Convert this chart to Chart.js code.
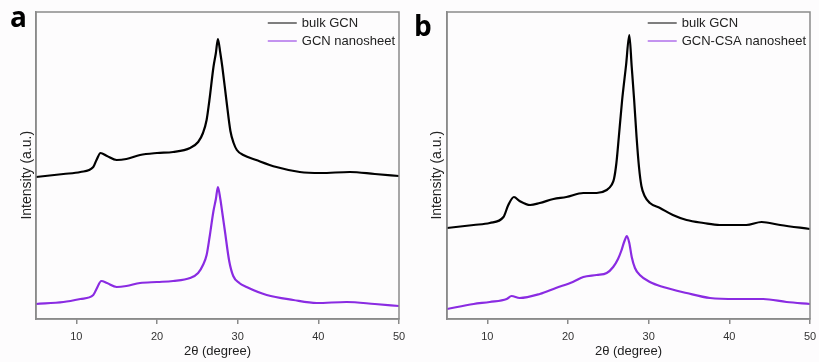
<!DOCTYPE html>
<html>
<head>
<meta charset="utf-8">
<script src="https://cdn.jsdelivr.net/npm/chart.js@4"></script>
<style>
  html, body { margin: 0; padding: 0; background: #fdfcfd; }
  #wrap { position: relative; width: 819px; height: 362px; }
  canvas { position: absolute; top: 0; }
  #panelA { left: 0; }
  #panelB { left: 410px; }
</style>
</head>
<body>
<div id="wrap">
  <canvas id="panelA" width="410" height="362"></canvas>
  <canvas id="panelB" width="409" height="362"></canvas>
</div>
<script>
// x axis tick labels (2θ, degree)
const xTicks = [10, 20, 30, 40, 50];

// panel a: bulk GCN
const aBulkX = [5, 8.4, 10.5, 12.1, 12.5, 13.0, 13.8, 15.0, 16.2, 17.9, 20.0, 22.0, 24.1, 25.1, 25.7, 26.15, 26.5, 27.0, 27.3, 27.55, 27.85, 28.1, 28.6, 29.1, 29.5, 29.9, 30.7, 32.3, 34.8, 37.7, 40.3, 43.9, 47.0, 50];
const aBulkY = [142, 145, 147, 152, 159, 166, 163, 159, 160, 164, 166, 167, 171, 177, 186, 199, 219, 252, 266, 280, 266, 252, 219, 188, 176, 169, 164, 159, 152, 147, 146, 147, 145, 143];

// panel a: GCN nanosheet
const aNanoX = [5, 8.4, 10.5, 12.1, 12.5, 13.1, 13.8, 15.0, 16.2, 17.9, 20.0, 22.0, 24.1, 25.1, 25.7, 26.15, 26.5, 27.0, 27.3, 27.55, 27.85, 28.1, 28.4, 28.95, 29.45, 30.2, 31.1, 33.6, 36.9, 39.8, 43.5, 47.0, 50];
const aNanoY = [15, 17, 20, 24, 30, 38, 36, 32, 33, 36, 37, 38, 41, 46, 54, 64, 81, 108, 120, 132, 120, 106, 89, 58, 43, 36, 32, 24, 19, 16, 17, 15, 13];

// panel b: bulk GCN
const bBulkX = [5, 8.3, 10.3, 12.0, 12.6, 13.3, 14.0, 15.3, 16.5, 18.2, 19.8, 21.9, 23.55, 24.8, 25.4, 25.7, 26.0, 26.3, 26.7, 27.2, 27.6, 27.9, 28.2, 28.5, 28.8, 29.1, 29.5, 30.15, 31.4, 33.0, 34.7, 36.8, 38.8, 42.1, 44.0, 46.3, 50];
const bBulkY = [91, 94, 96, 102, 114, 122, 118, 114, 116, 120, 122, 126, 126, 129, 134, 140, 156, 182, 218, 254, 284, 252, 219, 182, 152, 133, 123, 116, 111, 104, 99, 96, 94, 94, 97, 94, 90];

// panel b: GCN-CSA nanosheet
const bNanoX = [5, 8.3, 10.3, 12.4, 13.0, 14.0, 16.5, 18.5, 20.6, 21.9, 23.55, 24.8, 25.6, 26.2, 26.6, 27.0, 27.3, 27.6, 27.9, 28.3, 28.9, 30.15, 31.8, 34.7, 37.6, 40.9, 44.2, 47.1, 50];
const bNanoY = [10, 15, 17, 20, 23, 21, 25, 31, 37, 42, 44, 46, 52, 60, 68, 78, 83, 76, 62, 51, 44, 37, 32, 26, 21, 20, 20, 17, 15];

const BLACK = '#000000';
const PURPLE = '#8a2be2';
const FRAME = '#8a8a8a';
const FONT = '"Liberation Sans", Arial, sans-serif';
// trailing no-break spaces push the rotated y title a little below centre, as in the source figure
const Y_TITLE = 'Intensity (a.u.)' + '\u00a0'.repeat(5);

Chart.defaults.font.family = FONT;
Chart.defaults.color = '#222';

const toPoints = (xs, ys) => xs.map((x, i) => ({ x: x, y: ys[i] }));

// frame box, legend in the top right corner, panel letter
const decor = {
    id: 'decor',
    afterDraw(chart, args, opts) {
        const ctx = chart.ctx;
        const ca = chart.chartArea;
        ctx.save();
        ctx.strokeStyle = FRAME;
        ctx.lineWidth = 1.5;
        ctx.strokeRect(ca.left, ca.top, ca.right - ca.left, ca.bottom - ca.top);

        ctx.font = '13px ' + FONT;
        const sets = chart.data.datasets;
        const maxW = Math.max(...sets.map(d => ctx.measureText(d.label).width));
        const tx = ca.right - 4 - maxW;
        sets.forEach((d, i) => {
            const y = ca.top + 11 + i * 18;
            ctx.strokeStyle = d.borderColor;
            ctx.lineWidth = 1;
            ctx.beginPath();
            ctx.moveTo(tx - 34, y);
            ctx.lineTo(tx - 5, y);
            ctx.stroke();
            ctx.fillStyle = '#222';
            ctx.textBaseline = 'middle';
            ctx.fillText(d.label, tx, y);
        });

        ctx.font = 'bold 28px "Open Sans", sans-serif';
        ctx.fillStyle = '#000';
        ctx.textBaseline = 'alphabetic';
        ctx.fillText(opts.letter, opts.lx, opts.ly);
        ctx.restore();
    }
};

function makePanel(id, letter, lx, ly, rightPad, yWidth, sets) {
    new Chart(document.getElementById(id), {
        type: 'line',
        data: {
            datasets: sets.map(s => ({
                label: s.label,
                data: toPoints(s.x, s.y),
                borderColor: s.color,
                backgroundColor: s.color,
                borderWidth: 2.2,
                pointRadius: 0,
                fill: false,
                cubicInterpolationMode: 'monotone'
            }))
        },
        options: {
            responsive: false,
            animation: false,
            devicePixelRatio: 1,
            layout: { padding: { top: 12, right: rightPad, left: 0, bottom: 0 } },
            plugins: {
                legend: { display: false },
                tooltip: { enabled: false },
                decor: { letter: letter, lx: lx, ly: ly }
            },
            scales: {
                x: {
                    type: 'linear',
                    min: 5,
                    max: 50,
                    afterBuildTicks: s => { s.ticks = xTicks.map(v => ({ value: v })); },
                    afterFit: s => {
                        s.height = 43;
                        // let the layout padding alone decide the plot edges
                        s.paddingLeft = 0;
                        s.paddingRight = 0;
                    },
                    grid: { drawOnChartArea: false, tickLength: 5, color: FRAME, lineWidth: 1.5 },
                    border: { color: FRAME, width: 1.5 },
                    ticks: { color: '#333', font: { size: 11 }, padding: 6, maxRotation: 0 },
                    title: { display: true, text: '2θ (degree)', color: '#222', font: { size: 13 }, padding: { top: 0, bottom: 3 } }
                },
                y: {
                    min: 0,
                    max: 307,
                    afterFit: s => { s.width = yWidth; },
                    grid: { display: false },
                    border: { color: FRAME, width: 1.5 },
                    ticks: { display: false },
                    title: { display: true, text: Y_TITLE, color: '#222', font: { size: 14 }, padding: { top: 19, bottom: 0 } }
                }
            }
        },
        plugins: [decor]
    });
}

makePanel('panelA', 'a', 10, 27, 11, 36, [
    { label: 'bulk GCN', x: aBulkX, y: aBulkY, color: BLACK },
    { label: 'GCN nanosheet', x: aNanoX, y: aNanoY, color: PURPLE }
]);

makePanel('panelB', 'b', 4, 36, 9, 37, [
    { label: 'bulk GCN', x: bBulkX, y: bBulkY, color: BLACK },
    { label: 'GCN-CSA nanosheet', x: bNanoX, y: bNanoY, color: PURPLE }
]);
</script>
</body>
</html>
